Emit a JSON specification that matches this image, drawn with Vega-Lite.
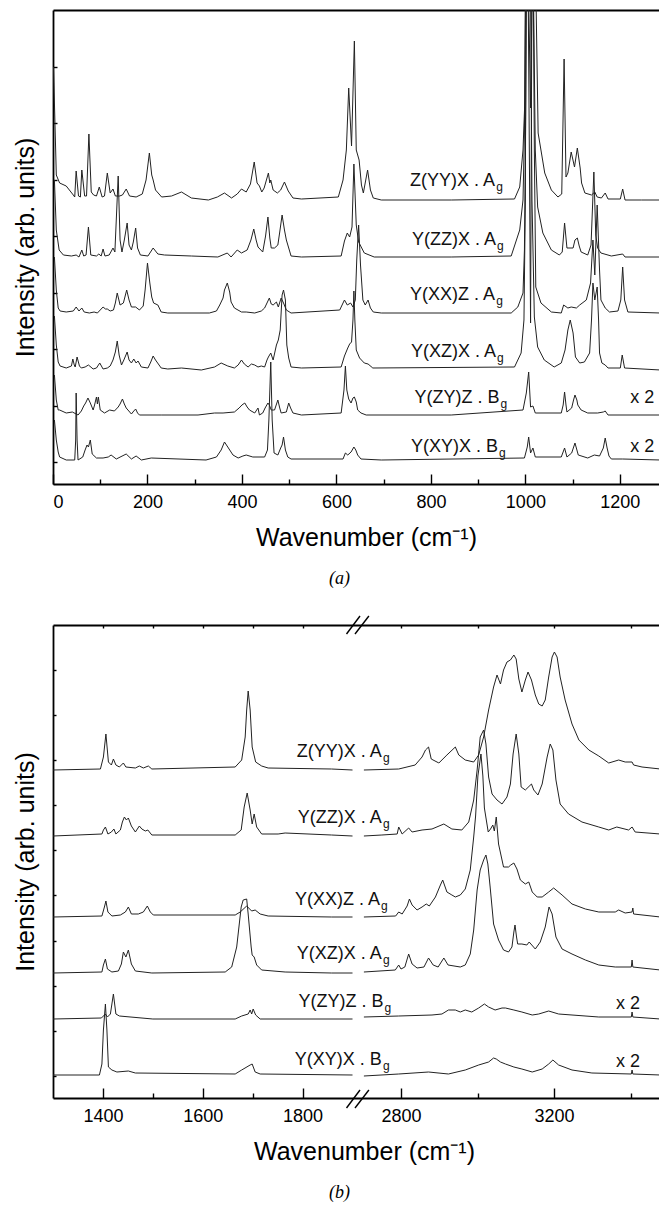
{
  "$schema": "https://vega.github.io/schema/vega-lite/v6.json",
  "background": "white",
  "padding": {"left": 13, "top": 10, "right": 0, "bottom": 0},
  "spacing": 27,
  "config": {
    "view": {"stroke": null},
    "font": "Liberation Sans",
    "axis": {
      "grid": false, "domainColor": "#000", "domainWidth": 1.8, "tickColor": "#000", "tickWidth": 1.4,
      "labelFont": "Liberation Sans", "labelFontSize": 18, "labelColor": "#000",
      "titleFont": "Liberation Sans", "titleFontSize": 25, "titleFontWeight": "normal", "titleColor": "#000"
    },
    "title": {"font": "Liberation Serif", "fontStyle": "italic", "fontWeight": "normal", "fontSize": 18, "color": "#000"},
    "text": {"font": "Liberation Sans", "color": "#111"}
  },
  "datasets": {
    "a": [
      {"s":"Z(YY)X","x":1,"y":395},{"s":"Z(YY)X","x":4,"y":342},{"s":"Z(YY)X","x":7,"y":287},{"s":"Z(YY)X","x":14,"y":279},{"s":"Z(YY)X","x":28,"y":276},{"s":"Z(YY)X","x":43,"y":267},{"s":"Z(YY)X","x":46,"y":265},{"s":"Z(YY)X","x":49,"y":291},{"s":"Z(YY)X","x":54,"y":266},{"s":"Z(YY)X","x":58,"y":265},{"s":"Z(YY)X","x":61,"y":292},{"s":"Z(YY)X","x":67,"y":266},{"s":"Z(YY)X","x":71,"y":266},{"s":"Z(YY)X","x":76,"y":328},{"s":"Z(YY)X","x":81,"y":270},{"s":"Z(YY)X","x":86,"y":267},{"s":"Z(YY)X","x":92,"y":266},{"s":"Z(YY)X","x":98,"y":275},{"s":"Z(YY)X","x":104,"y":265},{"s":"Z(YY)X","x":109,"y":266},{"s":"Z(YY)X","x":115,"y":289},{"s":"Z(YY)X","x":121,"y":269},{"s":"Z(YY)X","x":127,"y":273},{"s":"Z(YY)X","x":132,"y":266},{"s":"Z(YY)X","x":141,"y":266},{"s":"Z(YY)X","x":147,"y":267},{"s":"Z(YY)X","x":155,"y":273},{"s":"Z(YY)X","x":162,"y":266},{"s":"Z(YY)X","x":176,"y":265},{"s":"Z(YY)X","x":189,"y":268},{"s":"Z(YY)X","x":197,"y":282},{"s":"Z(YY)X","x":204,"y":309},{"s":"Z(YY)X","x":209,"y":287},{"s":"Z(YY)X","x":212,"y":282},{"s":"Z(YY)X","x":217,"y":272},{"s":"Z(YY)X","x":230,"y":265},{"s":"Z(YY)X","x":251,"y":266},{"s":"Z(YY)X","x":272,"y":270},{"s":"Z(YY)X","x":293,"y":264},{"s":"Z(YY)X","x":329,"y":262},{"s":"Z(YY)X","x":348,"y":265},{"s":"Z(YY)X","x":363,"y":269},{"s":"Z(YY)X","x":378,"y":264},{"s":"Z(YY)X","x":390,"y":268},{"s":"Z(YY)X","x":399,"y":273},{"s":"Z(YY)X","x":409,"y":270},{"s":"Z(YY)X","x":418,"y":278},{"s":"Z(YY)X","x":426,"y":300},{"s":"Z(YY)X","x":432,"y":279},{"s":"Z(YY)X","x":437,"y":276},{"s":"Z(YY)X","x":442,"y":270},{"s":"Z(YY)X","x":447,"y":274},{"s":"Z(YY)X","x":456,"y":289},{"s":"Z(YY)X","x":459,"y":279},{"s":"Z(YY)X","x":461,"y":282},{"s":"Z(YY)X","x":466,"y":272},{"s":"Z(YY)X","x":475,"y":269},{"s":"Z(YY)X","x":482,"y":272},{"s":"Z(YY)X","x":490,"y":280},{"s":"Z(YY)X","x":498,"y":271},{"s":"Z(YY)X","x":508,"y":264},{"s":"Z(YY)X","x":526,"y":263},{"s":"Z(YY)X","x":604,"y":265},{"s":"Z(YY)X","x":614,"y":282},{"s":"Z(YY)X","x":621,"y":312},{"s":"Z(YY)X","x":626,"y":374},{"s":"Z(YY)X","x":632,"y":316},{"s":"Z(YY)X","x":638,"y":421},{"s":"Z(YY)X","x":642,"y":312},{"s":"Z(YY)X","x":648,"y":302},{"s":"Z(YY)X","x":653,"y":277},{"s":"Z(YY)X","x":657,"y":269},{"s":"Z(YY)X","x":666,"y":292},{"s":"Z(YY)X","x":672,"y":272},{"s":"Z(YY)X","x":678,"y":264},{"s":"Z(YY)X","x":695,"y":262},{"s":"Z(YY)X","x":844,"y":262},{"s":"Z(YY)X","x":977,"y":263},{"s":"Z(YY)X","x":988,"y":275},{"s":"Z(YY)X","x":995,"y":312},{"s":"Z(YY)X","x":999,"y":362},{"s":"Z(YY)X","x":1002,"y":600},{"s":"Z(YY)X","x":1011,"y":354},{"s":"Z(YY)X","x":1018,"y":600},{"s":"Z(YY)X","x":1027,"y":329},{"s":"Z(YY)X","x":1041,"y":289},{"s":"Z(YY)X","x":1055,"y":272},{"s":"Z(YY)X","x":1069,"y":265},{"s":"Z(YY)X","x":1077,"y":268},{"s":"Z(YY)X","x":1082,"y":403},{"s":"Z(YY)X","x":1086,"y":285},{"s":"Z(YY)X","x":1090,"y":289},{"s":"Z(YY)X","x":1097,"y":310},{"s":"Z(YY)X","x":1104,"y":295},{"s":"Z(YY)X","x":1110,"y":314},{"s":"Z(YY)X","x":1116,"y":294},{"s":"Z(YY)X","x":1119,"y":279},{"s":"Z(YY)X","x":1126,"y":269},{"s":"Z(YY)X","x":1140,"y":267},{"s":"Z(YY)X","x":1147,"y":270},{"s":"Z(YY)X","x":1152,"y":265},{"s":"Z(YY)X","x":1161,"y":264},{"s":"Z(YY)X","x":1169,"y":269},{"s":"Z(YY)X","x":1175,"y":263},{"s":"Z(YY)X","x":1201,"y":263},{"s":"Z(YY)X","x":1206,"y":273},{"s":"Z(YY)X","x":1211,"y":262},{"s":"Z(YY)X","x":1246,"y":262},{"s":"Z(YY)X","x":1286,"y":262},

      {"s":"Y(ZZ)X","x":3,"y":282},{"s":"Y(ZZ)X","x":7,"y":232},{"s":"Y(ZZ)X","x":13,"y":212},{"s":"Y(ZZ)X","x":22,"y":207},{"s":"Y(ZZ)X","x":39,"y":206},{"s":"Y(ZZ)X","x":49,"y":207},{"s":"Y(ZZ)X","x":55,"y":205},{"s":"Y(ZZ)X","x":61,"y":212},{"s":"Y(ZZ)X","x":65,"y":206},{"s":"Y(ZZ)X","x":70,"y":207},{"s":"Y(ZZ)X","x":75,"y":235},{"s":"Y(ZZ)X","x":80,"y":207},{"s":"Y(ZZ)X","x":92,"y":206},{"s":"Y(ZZ)X","x":97,"y":208},{"s":"Y(ZZ)X","x":102,"y":206},{"s":"Y(ZZ)X","x":106,"y":213},{"s":"Y(ZZ)X","x":110,"y":206},{"s":"Y(ZZ)X","x":119,"y":207},{"s":"Y(ZZ)X","x":127,"y":214},{"s":"Y(ZZ)X","x":131,"y":210},{"s":"Y(ZZ)X","x":138,"y":286},{"s":"Y(ZZ)X","x":142,"y":222},{"s":"Y(ZZ)X","x":146,"y":210},{"s":"Y(ZZ)X","x":151,"y":222},{"s":"Y(ZZ)X","x":157,"y":239},{"s":"Y(ZZ)X","x":161,"y":217},{"s":"Y(ZZ)X","x":166,"y":212},{"s":"Y(ZZ)X","x":170,"y":220},{"s":"Y(ZZ)X","x":175,"y":234},{"s":"Y(ZZ)X","x":179,"y":214},{"s":"Y(ZZ)X","x":185,"y":207},{"s":"Y(ZZ)X","x":201,"y":206},{"s":"Y(ZZ)X","x":212,"y":214},{"s":"Y(ZZ)X","x":222,"y":208},{"s":"Y(ZZ)X","x":236,"y":207},{"s":"Y(ZZ)X","x":293,"y":206},{"s":"Y(ZZ)X","x":349,"y":205},{"s":"Y(ZZ)X","x":369,"y":209},{"s":"Y(ZZ)X","x":377,"y":205},{"s":"Y(ZZ)X","x":390,"y":212},{"s":"Y(ZZ)X","x":399,"y":209},{"s":"Y(ZZ)X","x":411,"y":212},{"s":"Y(ZZ)X","x":419,"y":222},{"s":"Y(ZZ)X","x":425,"y":233},{"s":"Y(ZZ)X","x":430,"y":222},{"s":"Y(ZZ)X","x":434,"y":215},{"s":"Y(ZZ)X","x":444,"y":210},{"s":"Y(ZZ)X","x":450,"y":226},{"s":"Y(ZZ)X","x":455,"y":245},{"s":"Y(ZZ)X","x":459,"y":224},{"s":"Y(ZZ)X","x":462,"y":214},{"s":"Y(ZZ)X","x":469,"y":214},{"s":"Y(ZZ)X","x":476,"y":217},{"s":"Y(ZZ)X","x":480,"y":230},{"s":"Y(ZZ)X","x":485,"y":247},{"s":"Y(ZZ)X","x":490,"y":232},{"s":"Y(ZZ)X","x":494,"y":222},{"s":"Y(ZZ)X","x":504,"y":206},{"s":"Y(ZZ)X","x":526,"y":205},{"s":"Y(ZZ)X","x":610,"y":206},{"s":"Y(ZZ)X","x":617,"y":221},{"s":"Y(ZZ)X","x":623,"y":229},{"s":"Y(ZZ)X","x":628,"y":225},{"s":"Y(ZZ)X","x":633,"y":235},{"s":"Y(ZZ)X","x":637,"y":298},{"s":"Y(ZZ)X","x":642,"y":237},{"s":"Y(ZZ)X","x":647,"y":220},{"s":"Y(ZZ)X","x":659,"y":209},{"s":"Y(ZZ)X","x":680,"y":205},{"s":"Y(ZZ)X","x":843,"y":205},{"s":"Y(ZZ)X","x":970,"y":206},{"s":"Y(ZZ)X","x":988,"y":232},{"s":"Y(ZZ)X","x":995,"y":262},{"s":"Y(ZZ)X","x":998,"y":329},{"s":"Y(ZZ)X","x":1002,"y":600},{"s":"Y(ZZ)X","x":1014,"y":600},{"s":"Y(ZZ)X","x":1021,"y":312},{"s":"Y(ZZ)X","x":1026,"y":255},{"s":"Y(ZZ)X","x":1037,"y":229},{"s":"Y(ZZ)X","x":1055,"y":212},{"s":"Y(ZZ)X","x":1072,"y":207},{"s":"Y(ZZ)X","x":1078,"y":210},{"s":"Y(ZZ)X","x":1083,"y":239},{"s":"Y(ZZ)X","x":1088,"y":214},{"s":"Y(ZZ)X","x":1101,"y":214},{"s":"Y(ZZ)X","x":1105,"y":222},{"s":"Y(ZZ)X","x":1110,"y":224},{"s":"Y(ZZ)X","x":1114,"y":216},{"s":"Y(ZZ)X","x":1118,"y":210},{"s":"Y(ZZ)X","x":1132,"y":207},{"s":"Y(ZZ)X","x":1139,"y":217},{"s":"Y(ZZ)X","x":1145,"y":290},{"s":"Y(ZZ)X","x":1149,"y":227},{"s":"Y(ZZ)X","x":1153,"y":214},{"s":"Y(ZZ)X","x":1160,"y":209},{"s":"Y(ZZ)X","x":1182,"y":206},{"s":"Y(ZZ)X","x":1206,"y":208},{"s":"Y(ZZ)X","x":1211,"y":205},{"s":"Y(ZZ)X","x":1286,"y":205},

      {"s":"Y(XX)Z","x":3,"y":205},{"s":"Y(XX)Z","x":7,"y":172},{"s":"Y(XX)Z","x":11,"y":154},{"s":"Y(XX)Z","x":15,"y":151},{"s":"Y(XX)Z","x":28,"y":150},{"s":"Y(XX)Z","x":43,"y":151},{"s":"Y(XX)Z","x":49,"y":155},{"s":"Y(XX)Z","x":55,"y":151},{"s":"Y(XX)Z","x":61,"y":154},{"s":"Y(XX)Z","x":66,"y":150},{"s":"Y(XX)Z","x":77,"y":149},{"s":"Y(XX)Z","x":87,"y":150},{"s":"Y(XX)Z","x":94,"y":149},{"s":"Y(XX)Z","x":106,"y":155},{"s":"Y(XX)Z","x":111,"y":153},{"s":"Y(XX)Z","x":115,"y":153},{"s":"Y(XX)Z","x":121,"y":151},{"s":"Y(XX)Z","x":128,"y":152},{"s":"Y(XX)Z","x":132,"y":159},{"s":"Y(XX)Z","x":136,"y":169},{"s":"Y(XX)Z","x":142,"y":157},{"s":"Y(XX)Z","x":149,"y":159},{"s":"Y(XX)Z","x":156,"y":172},{"s":"Y(XX)Z","x":161,"y":162},{"s":"Y(XX)Z","x":166,"y":155},{"s":"Y(XX)Z","x":175,"y":155},{"s":"Y(XX)Z","x":183,"y":152},{"s":"Y(XX)Z","x":191,"y":156},{"s":"Y(XX)Z","x":195,"y":172},{"s":"Y(XX)Z","x":200,"y":199},{"s":"Y(XX)Z","x":205,"y":179},{"s":"Y(XX)Z","x":209,"y":165},{"s":"Y(XX)Z","x":213,"y":159},{"s":"Y(XX)Z","x":222,"y":157},{"s":"Y(XX)Z","x":229,"y":150},{"s":"Y(XX)Z","x":243,"y":149},{"s":"Y(XX)Z","x":331,"y":149},{"s":"Y(XX)Z","x":346,"y":151},{"s":"Y(XX)Z","x":353,"y":157},{"s":"Y(XX)Z","x":360,"y":164},{"s":"Y(XX)Z","x":363,"y":172},{"s":"Y(XX)Z","x":369,"y":179},{"s":"Y(XX)Z","x":374,"y":170},{"s":"Y(XX)Z","x":377,"y":160},{"s":"Y(XX)Z","x":384,"y":154},{"s":"Y(XX)Z","x":399,"y":150},{"s":"Y(XX)Z","x":409,"y":150},{"s":"Y(XX)Z","x":427,"y":149},{"s":"Y(XX)Z","x":441,"y":151},{"s":"Y(XX)Z","x":448,"y":154},{"s":"Y(XX)Z","x":454,"y":160},{"s":"Y(XX)Z","x":458,"y":164},{"s":"Y(XX)Z","x":462,"y":158},{"s":"Y(XX)Z","x":466,"y":157},{"s":"Y(XX)Z","x":473,"y":160},{"s":"Y(XX)Z","x":477,"y":155},{"s":"Y(XX)Z","x":483,"y":164},{"s":"Y(XX)Z","x":488,"y":159},{"s":"Y(XX)Z","x":494,"y":152},{"s":"Y(XX)Z","x":504,"y":149},{"s":"Y(XX)Z","x":607,"y":152},{"s":"Y(XX)Z","x":617,"y":162},{"s":"Y(XX)Z","x":623,"y":157},{"s":"Y(XX)Z","x":630,"y":159},{"s":"Y(XX)Z","x":635,"y":155},{"s":"Y(XX)Z","x":640,"y":162},{"s":"Y(XX)Z","x":643,"y":202},{"s":"Y(XX)Z","x":647,"y":237},{"s":"Y(XX)Z","x":651,"y":197},{"s":"Y(XX)Z","x":656,"y":162},{"s":"Y(XX)Z","x":661,"y":157},{"s":"Y(XX)Z","x":667,"y":162},{"s":"Y(XX)Z","x":672,"y":154},{"s":"Y(XX)Z","x":678,"y":150},{"s":"Y(XX)Z","x":695,"y":149},{"s":"Y(XX)Z","x":970,"y":149},{"s":"Y(XX)Z","x":984,"y":155},{"s":"Y(XX)Z","x":995,"y":169},{"s":"Y(XX)Z","x":998,"y":212},{"s":"Y(XX)Z","x":1001,"y":362},{"s":"Y(XX)Z","x":1004,"y":600},{"s":"Y(XX)Z","x":1011,"y":139},{"s":"Y(XX)Z","x":1015,"y":600},{"s":"Y(XX)Z","x":1019,"y":312},{"s":"Y(XX)Z","x":1022,"y":175},{"s":"Y(XX)Z","x":1033,"y":159},{"s":"Y(XX)Z","x":1055,"y":150},{"s":"Y(XX)Z","x":1076,"y":149},{"s":"Y(XX)Z","x":1081,"y":157},{"s":"Y(XX)Z","x":1090,"y":154},{"s":"Y(XX)Z","x":1097,"y":155},{"s":"Y(XX)Z","x":1108,"y":154},{"s":"Y(XX)Z","x":1115,"y":157},{"s":"Y(XX)Z","x":1129,"y":162},{"s":"Y(XX)Z","x":1138,"y":179},{"s":"Y(XX)Z","x":1143,"y":222},{"s":"Y(XX)Z","x":1147,"y":187},{"s":"Y(XX)Z","x":1152,"y":257},{"s":"Y(XX)Z","x":1157,"y":192},{"s":"Y(XX)Z","x":1160,"y":162},{"s":"Y(XX)Z","x":1169,"y":154},{"s":"Y(XX)Z","x":1178,"y":150},{"s":"Y(XX)Z","x":1196,"y":151},{"s":"Y(XX)Z","x":1202,"y":162},{"s":"Y(XX)Z","x":1206,"y":195},{"s":"Y(XX)Z","x":1210,"y":162},{"s":"Y(XX)Z","x":1217,"y":150},{"s":"Y(XX)Z","x":1286,"y":149},

      {"s":"Y(XZ)X","x":3,"y":146},{"s":"Y(XZ)X","x":7,"y":117},{"s":"Y(XZ)X","x":11,"y":100},{"s":"Y(XZ)X","x":15,"y":96},{"s":"Y(XZ)X","x":28,"y":94},{"s":"Y(XZ)X","x":39,"y":96},{"s":"Y(XZ)X","x":42,"y":103},{"s":"Y(XZ)X","x":45,"y":97},{"s":"Y(XZ)X","x":47,"y":95},{"s":"Y(XZ)X","x":51,"y":105},{"s":"Y(XZ)X","x":56,"y":96},{"s":"Y(XZ)X","x":60,"y":94},{"s":"Y(XZ)X","x":68,"y":95},{"s":"Y(XZ)X","x":75,"y":97},{"s":"Y(XZ)X","x":85,"y":93},{"s":"Y(XZ)X","x":92,"y":94},{"s":"Y(XZ)X","x":99,"y":99},{"s":"Y(XZ)X","x":106,"y":93},{"s":"Y(XZ)X","x":115,"y":94},{"s":"Y(XZ)X","x":121,"y":96},{"s":"Y(XZ)X","x":127,"y":102},{"s":"Y(XZ)X","x":132,"y":110},{"s":"Y(XZ)X","x":136,"y":121},{"s":"Y(XZ)X","x":140,"y":107},{"s":"Y(XZ)X","x":145,"y":97},{"s":"Y(XZ)X","x":150,"y":102},{"s":"Y(XZ)X","x":157,"y":110},{"s":"Y(XZ)X","x":161,"y":102},{"s":"Y(XZ)X","x":166,"y":99},{"s":"Y(XZ)X","x":171,"y":103},{"s":"Y(XZ)X","x":176,"y":99},{"s":"Y(XZ)X","x":180,"y":101},{"s":"Y(XZ)X","x":187,"y":95},{"s":"Y(XZ)X","x":201,"y":94},{"s":"Y(XZ)X","x":207,"y":100},{"s":"Y(XZ)X","x":212,"y":106},{"s":"Y(XZ)X","x":217,"y":102},{"s":"Y(XZ)X","x":220,"y":100},{"s":"Y(XZ)X","x":229,"y":94},{"s":"Y(XZ)X","x":243,"y":93},{"s":"Y(XZ)X","x":272,"y":94},{"s":"Y(XZ)X","x":314,"y":92},{"s":"Y(XZ)X","x":342,"y":95},{"s":"Y(XZ)X","x":356,"y":99},{"s":"Y(XZ)X","x":370,"y":96},{"s":"Y(XZ)X","x":384,"y":94},{"s":"Y(XZ)X","x":392,"y":97},{"s":"Y(XZ)X","x":399,"y":102},{"s":"Y(XZ)X","x":405,"y":98},{"s":"Y(XZ)X","x":413,"y":95},{"s":"Y(XZ)X","x":420,"y":98},{"s":"Y(XZ)X","x":427,"y":97},{"s":"Y(XZ)X","x":434,"y":95},{"s":"Y(XZ)X","x":441,"y":96},{"s":"Y(XZ)X","x":448,"y":95},{"s":"Y(XZ)X","x":453,"y":102},{"s":"Y(XZ)X","x":456,"y":105},{"s":"Y(XZ)X","x":461,"y":109},{"s":"Y(XZ)X","x":466,"y":102},{"s":"Y(XZ)X","x":473,"y":117},{"s":"Y(XZ)X","x":477,"y":122},{"s":"Y(XZ)X","x":481,"y":132},{"s":"Y(XZ)X","x":485,"y":167},{"s":"Y(XZ)X","x":488,"y":172},{"s":"Y(XZ)X","x":492,"y":162},{"s":"Y(XZ)X","x":495,"y":117},{"s":"Y(XZ)X","x":499,"y":104},{"s":"Y(XZ)X","x":504,"y":95},{"s":"Y(XZ)X","x":526,"y":94},{"s":"Y(XZ)X","x":610,"y":95},{"s":"Y(XZ)X","x":617,"y":106},{"s":"Y(XZ)X","x":624,"y":114},{"s":"Y(XZ)X","x":628,"y":118},{"s":"Y(XZ)X","x":632,"y":120},{"s":"Y(XZ)X","x":635,"y":142},{"s":"Y(XZ)X","x":637,"y":171},{"s":"Y(XZ)X","x":639,"y":142},{"s":"Y(XZ)X","x":642,"y":112},{"s":"Y(XZ)X","x":649,"y":104},{"s":"Y(XZ)X","x":659,"y":99},{"s":"Y(XZ)X","x":667,"y":98},{"s":"Y(XZ)X","x":677,"y":94},{"s":"Y(XZ)X","x":977,"y":95},{"s":"Y(XZ)X","x":991,"y":109},{"s":"Y(XZ)X","x":997,"y":142},{"s":"Y(XZ)X","x":1000,"y":262},{"s":"Y(XZ)X","x":1002,"y":600},{"s":"Y(XZ)X","x":1009,"y":600},{"s":"Y(XZ)X","x":1014,"y":262},{"s":"Y(XZ)X","x":1019,"y":145},{"s":"Y(XZ)X","x":1026,"y":115},{"s":"Y(XZ)X","x":1040,"y":102},{"s":"Y(XZ)X","x":1061,"y":95},{"s":"Y(XZ)X","x":1076,"y":99},{"s":"Y(XZ)X","x":1084,"y":112},{"s":"Y(XZ)X","x":1090,"y":132},{"s":"Y(XZ)X","x":1095,"y":142},{"s":"Y(XZ)X","x":1101,"y":129},{"s":"Y(XZ)X","x":1106,"y":105},{"s":"Y(XZ)X","x":1115,"y":99},{"s":"Y(XZ)X","x":1125,"y":100},{"s":"Y(XZ)X","x":1136,"y":109},{"s":"Y(XZ)X","x":1140,"y":142},{"s":"Y(XZ)X","x":1143,"y":179},{"s":"Y(XZ)X","x":1147,"y":162},{"s":"Y(XZ)X","x":1152,"y":175},{"s":"Y(XZ)X","x":1155,"y":142},{"s":"Y(XZ)X","x":1157,"y":109},{"s":"Y(XZ)X","x":1162,"y":99},{"s":"Y(XZ)X","x":1169,"y":97},{"s":"Y(XZ)X","x":1175,"y":94},{"s":"Y(XZ)X","x":1201,"y":94},{"s":"Y(XZ)X","x":1205,"y":107},{"s":"Y(XZ)X","x":1210,"y":94},{"s":"Y(XZ)X","x":1286,"y":92},

      {"s":"Y(ZY)Z","x":3,"y":87},{"s":"Y(ZY)Z","x":7,"y":62},{"s":"Y(ZY)Z","x":11,"y":52},{"s":"Y(ZY)Z","x":14,"y":52},{"s":"Y(ZY)Z","x":28,"y":49},{"s":"Y(ZY)Z","x":41,"y":50},{"s":"Y(ZY)Z","x":53,"y":47},{"s":"Y(ZY)Z","x":60,"y":51},{"s":"Y(ZY)Z","x":65,"y":56},{"s":"Y(ZY)Z","x":69,"y":59},{"s":"Y(ZY)Z","x":74,"y":64},{"s":"Y(ZY)Z","x":79,"y":59},{"s":"Y(ZY)Z","x":85,"y":52},{"s":"Y(ZY)Z","x":88,"y":57},{"s":"Y(ZY)Z","x":92,"y":65},{"s":"Y(ZY)Z","x":94,"y":58},{"s":"Y(ZY)Z","x":96,"y":65},{"s":"Y(ZY)Z","x":100,"y":52},{"s":"Y(ZY)Z","x":109,"y":49},{"s":"Y(ZY)Z","x":120,"y":52},{"s":"Y(ZY)Z","x":130,"y":51},{"s":"Y(ZY)Z","x":138,"y":55},{"s":"Y(ZY)Z","x":142,"y":58},{"s":"Y(ZY)Z","x":147,"y":63},{"s":"Y(ZY)Z","x":151,"y":58},{"s":"Y(ZY)Z","x":155,"y":54},{"s":"Y(ZY)Z","x":166,"y":48},{"s":"Y(ZY)Z","x":171,"y":51},{"s":"Y(ZY)Z","x":175,"y":53},{"s":"Y(ZY)Z","x":179,"y":49},{"s":"Y(ZY)Z","x":183,"y":47},{"s":"Y(ZY)Z","x":229,"y":47},{"s":"Y(ZY)Z","x":307,"y":47},{"s":"Y(ZY)Z","x":342,"y":49},{"s":"Y(ZY)Z","x":360,"y":49},{"s":"Y(ZY)Z","x":384,"y":50},{"s":"Y(ZY)Z","x":394,"y":54},{"s":"Y(ZY)Z","x":400,"y":57},{"s":"Y(ZY)Z","x":406,"y":59},{"s":"Y(ZY)Z","x":411,"y":55},{"s":"Y(ZY)Z","x":416,"y":52},{"s":"Y(ZY)Z","x":427,"y":49},{"s":"Y(ZY)Z","x":434,"y":54},{"s":"Y(ZY)Z","x":437,"y":47},{"s":"Y(ZY)Z","x":444,"y":49},{"s":"Y(ZY)Z","x":449,"y":54},{"s":"Y(ZY)Z","x":455,"y":59},{"s":"Y(ZY)Z","x":458,"y":57},{"s":"Y(ZY)Z","x":462,"y":52},{"s":"Y(ZY)Z","x":469,"y":52},{"s":"Y(ZY)Z","x":476,"y":62},{"s":"Y(ZY)Z","x":480,"y":54},{"s":"Y(ZY)Z","x":483,"y":49},{"s":"Y(ZY)Z","x":494,"y":50},{"s":"Y(ZY)Z","x":499,"y":59},{"s":"Y(ZY)Z","x":503,"y":54},{"s":"Y(ZY)Z","x":508,"y":49},{"s":"Y(ZY)Z","x":526,"y":47},{"s":"Y(ZY)Z","x":610,"y":49},{"s":"Y(ZY)Z","x":616,"y":72},{"s":"Y(ZY)Z","x":619,"y":96},{"s":"Y(ZY)Z","x":622,"y":72},{"s":"Y(ZY)Z","x":626,"y":63},{"s":"Y(ZY)Z","x":631,"y":59},{"s":"Y(ZY)Z","x":635,"y":64},{"s":"Y(ZY)Z","x":638,"y":65},{"s":"Y(ZY)Z","x":642,"y":60},{"s":"Y(ZY)Z","x":645,"y":52},{"s":"Y(ZY)Z","x":652,"y":49},{"s":"Y(ZY)Z","x":663,"y":47},{"s":"Y(ZY)Z","x":843,"y":47},{"s":"Y(ZY)Z","x":995,"y":52},{"s":"Y(ZY)Z","x":1002,"y":69},{"s":"Y(ZY)Z","x":1007,"y":90},{"s":"Y(ZY)Z","x":1011,"y":55},{"s":"Y(ZY)Z","x":1016,"y":56},{"s":"Y(ZY)Z","x":1021,"y":49},{"s":"Y(ZY)Z","x":1076,"y":49},{"s":"Y(ZY)Z","x":1080,"y":57},{"s":"Y(ZY)Z","x":1083,"y":70},{"s":"Y(ZY)Z","x":1086,"y":57},{"s":"Y(ZY)Z","x":1088,"y":50},{"s":"Y(ZY)Z","x":1098,"y":54},{"s":"Y(ZY)Z","x":1102,"y":62},{"s":"Y(ZY)Z","x":1105,"y":67},{"s":"Y(ZY)Z","x":1109,"y":62},{"s":"Y(ZY)Z","x":1111,"y":57},{"s":"Y(ZY)Z","x":1118,"y":52},{"s":"Y(ZY)Z","x":1132,"y":49},{"s":"Y(ZY)Z","x":1153,"y":49},{"s":"Y(ZY)Z","x":1165,"y":50},{"s":"Y(ZY)Z","x":1169,"y":51},{"s":"Y(ZY)Z","x":1175,"y":47},{"s":"Y(ZY)Z","x":1286,"y":47},

      {"s":"Y(XY)X","x":3,"y":42},{"s":"Y(XY)X","x":7,"y":22},{"s":"Y(XY)X","x":11,"y":10},{"s":"Y(XY)X","x":14,"y":5},{"s":"Y(XY)X","x":28,"y":2},{"s":"Y(XY)X","x":46,"y":2},{"s":"Y(XY)X","x":48,"y":22},{"s":"Y(XY)X","x":49,"y":69},{"s":"Y(XY)X","x":51,"y":22},{"s":"Y(XY)X","x":53,"y":2},{"s":"Y(XY)X","x":63,"y":5},{"s":"Y(XY)X","x":68,"y":12},{"s":"Y(XY)X","x":72,"y":17},{"s":"Y(XY)X","x":75,"y":15},{"s":"Y(XY)X","x":79,"y":22},{"s":"Y(XY)X","x":83,"y":8},{"s":"Y(XY)X","x":92,"y":4},{"s":"Y(XY)X","x":106,"y":4},{"s":"Y(XY)X","x":117,"y":5},{"s":"Y(XY)X","x":123,"y":7},{"s":"Y(XY)X","x":134,"y":3},{"s":"Y(XY)X","x":155,"y":8},{"s":"Y(XY)X","x":166,"y":3},{"s":"Y(XY)X","x":176,"y":6},{"s":"Y(XY)X","x":187,"y":2},{"s":"Y(XY)X","x":208,"y":4},{"s":"Y(XY)X","x":324,"y":2},{"s":"Y(XY)X","x":346,"y":5},{"s":"Y(XY)X","x":356,"y":12},{"s":"Y(XY)X","x":363,"y":20},{"s":"Y(XY)X","x":370,"y":15},{"s":"Y(XY)X","x":381,"y":7},{"s":"Y(XY)X","x":392,"y":4},{"s":"Y(XY)X","x":402,"y":6},{"s":"Y(XY)X","x":409,"y":7},{"s":"Y(XY)X","x":423,"y":5},{"s":"Y(XY)X","x":434,"y":5},{"s":"Y(XY)X","x":448,"y":5},{"s":"Y(XY)X","x":454,"y":12},{"s":"Y(XY)X","x":457,"y":42},{"s":"Y(XY)X","x":461,"y":100},{"s":"Y(XY)X","x":464,"y":42},{"s":"Y(XY)X","x":468,"y":9},{"s":"Y(XY)X","x":476,"y":7},{"s":"Y(XY)X","x":482,"y":14},{"s":"Y(XY)X","x":485,"y":17},{"s":"Y(XY)X","x":488,"y":25},{"s":"Y(XY)X","x":492,"y":12},{"s":"Y(XY)X","x":497,"y":5},{"s":"Y(XY)X","x":504,"y":3},{"s":"Y(XY)X","x":614,"y":3},{"s":"Y(XY)X","x":619,"y":9},{"s":"Y(XY)X","x":624,"y":7},{"s":"Y(XY)X","x":631,"y":10},{"s":"Y(XY)X","x":637,"y":15},{"s":"Y(XY)X","x":641,"y":12},{"s":"Y(XY)X","x":645,"y":7},{"s":"Y(XY)X","x":652,"y":3},{"s":"Y(XY)X","x":695,"y":2},{"s":"Y(XY)X","x":998,"y":4},{"s":"Y(XY)X","x":1004,"y":15},{"s":"Y(XY)X","x":1007,"y":25},{"s":"Y(XY)X","x":1011,"y":9},{"s":"Y(XY)X","x":1016,"y":14},{"s":"Y(XY)X","x":1021,"y":5},{"s":"Y(XY)X","x":1076,"y":5},{"s":"Y(XY)X","x":1083,"y":14},{"s":"Y(XY)X","x":1088,"y":5},{"s":"Y(XY)X","x":1098,"y":9},{"s":"Y(XY)X","x":1105,"y":19},{"s":"Y(XY)X","x":1112,"y":7},{"s":"Y(XY)X","x":1132,"y":4},{"s":"Y(XY)X","x":1146,"y":7},{"s":"Y(XY)X","x":1157,"y":6},{"s":"Y(XY)X","x":1165,"y":14},{"s":"Y(XY)X","x":1169,"y":24},{"s":"Y(XY)X","x":1173,"y":14},{"s":"Y(XY)X","x":1177,"y":6},{"s":"Y(XY)X","x":1182,"y":3},{"s":"Y(XY)X","x":1206,"y":3},{"s":"Y(XY)X","x":1286,"y":2}
    ],
    "b": [
      {"s":"Z(YY)X","p":"L","x":1300,"y":306},{"s":"Z(YY)X","p":"L","x":1395,"y":307},{"s":"Z(YY)X","p":"L","x":1401,"y":319},{"s":"Z(YY)X","p":"L","x":1406,"y":342},{"s":"Z(YY)X","p":"L","x":1411,"y":314},{"s":"Z(YY)X","p":"L","x":1417,"y":311},{"s":"Z(YY)X","p":"L","x":1421,"y":317},{"s":"Z(YY)X","p":"L","x":1426,"y":311},{"s":"Z(YY)X","p":"L","x":1433,"y":309},{"s":"Z(YY)X","p":"L","x":1441,"y":313},{"s":"Z(YY)X","p":"L","x":1446,"y":309},{"s":"Z(YY)X","p":"L","x":1465,"y":308},{"s":"Z(YY)X","p":"L","x":1473,"y":310},{"s":"Z(YY)X","p":"L","x":1481,"y":308},{"s":"Z(YY)X","p":"L","x":1491,"y":310},{"s":"Z(YY)X","p":"L","x":1498,"y":307},{"s":"Z(YY)X","p":"L","x":1665,"y":309},{"s":"Z(YY)X","p":"L","x":1678,"y":316},{"s":"Z(YY)X","p":"L","x":1685,"y":339},{"s":"Z(YY)X","p":"L","x":1688,"y":366},{"s":"Z(YY)X","p":"L","x":1691,"y":385},{"s":"Z(YY)X","p":"L","x":1695,"y":366},{"s":"Z(YY)X","p":"L","x":1699,"y":329},{"s":"Z(YY)X","p":"L","x":1706,"y":314},{"s":"Z(YY)X","p":"L","x":1718,"y":310},{"s":"Z(YY)X","p":"L","x":1731,"y":308},{"s":"Z(YY)X","p":"L","x":1858,"y":307},{"s":"Z(YY)X","p":"L","x":1900,"y":306},
      {"s":"Z(YY)X","p":"R","x":2703,"y":306},{"s":"Z(YY)X","p":"R","x":2794,"y":307},{"s":"Z(YY)X","p":"R","x":2837,"y":311},{"s":"Z(YY)X","p":"R","x":2855,"y":319},{"s":"Z(YY)X","p":"R","x":2864,"y":326},{"s":"Z(YY)X","p":"R","x":2872,"y":329},{"s":"Z(YY)X","p":"R","x":2879,"y":317},{"s":"Z(YY)X","p":"R","x":2899,"y":313},{"s":"Z(YY)X","p":"R","x":2920,"y":321},{"s":"Z(YY)X","p":"R","x":2942,"y":329},{"s":"Z(YY)X","p":"R","x":2951,"y":321},{"s":"Z(YY)X","p":"R","x":2968,"y":316},{"s":"Z(YY)X","p":"R","x":2990,"y":314},{"s":"Z(YY)X","p":"R","x":3003,"y":321},{"s":"Z(YY)X","p":"R","x":3016,"y":339},{"s":"Z(YY)X","p":"R","x":3029,"y":366},{"s":"Z(YY)X","p":"R","x":3042,"y":389},{"s":"Z(YY)X","p":"R","x":3051,"y":401},{"s":"Z(YY)X","p":"R","x":3060,"y":392},{"s":"Z(YY)X","p":"R","x":3068,"y":406},{"s":"Z(YY)X","p":"R","x":3077,"y":414},{"s":"Z(YY)X","p":"R","x":3086,"y":416},{"s":"Z(YY)X","p":"R","x":3095,"y":421},{"s":"Z(YY)X","p":"R","x":3101,"y":417},{"s":"Z(YY)X","p":"R","x":3108,"y":397},{"s":"Z(YY)X","p":"R","x":3116,"y":384},{"s":"Z(YY)X","p":"R","x":3125,"y":396},{"s":"Z(YY)X","p":"R","x":3132,"y":404},{"s":"Z(YY)X","p":"R","x":3141,"y":396},{"s":"Z(YY)X","p":"R","x":3151,"y":381},{"s":"Z(YY)X","p":"R","x":3160,"y":372},{"s":"Z(YY)X","p":"R","x":3169,"y":370},{"s":"Z(YY)X","p":"R","x":3177,"y":376},{"s":"Z(YY)X","p":"R","x":3186,"y":399},{"s":"Z(YY)X","p":"R","x":3195,"y":419},{"s":"Z(YY)X","p":"R","x":3201,"y":424},{"s":"Z(YY)X","p":"R","x":3208,"y":419},{"s":"Z(YY)X","p":"R","x":3216,"y":399},{"s":"Z(YY)X","p":"R","x":3229,"y":376},{"s":"Z(YY)X","p":"R","x":3247,"y":352},{"s":"Z(YY)X","p":"R","x":3265,"y":336},{"s":"Z(YY)X","p":"R","x":3291,"y":326},{"s":"Z(YY)X","p":"R","x":3317,"y":320},{"s":"Z(YY)X","p":"R","x":3343,"y":313},{"s":"Z(YY)X","p":"R","x":3369,"y":316},{"s":"Z(YY)X","p":"R","x":3386,"y":314},{"s":"Z(YY)X","p":"R","x":3404,"y":314},{"s":"Z(YY)X","p":"R","x":3408,"y":311},{"s":"Z(YY)X","p":"R","x":3430,"y":309},{"s":"Z(YY)X","p":"R","x":3478,"y":307},

      {"s":"Y(ZZ)X","p":"L","x":1300,"y":240},{"s":"Y(ZZ)X","p":"L","x":1398,"y":242},{"s":"Y(ZZ)X","p":"L","x":1401,"y":246},{"s":"Y(ZZ)X","p":"L","x":1405,"y":249},{"s":"Y(ZZ)X","p":"L","x":1410,"y":242},{"s":"Y(ZZ)X","p":"L","x":1417,"y":244},{"s":"Y(ZZ)X","p":"L","x":1422,"y":247},{"s":"Y(ZZ)X","p":"L","x":1426,"y":242},{"s":"Y(ZZ)X","p":"L","x":1435,"y":246},{"s":"Y(ZZ)X","p":"L","x":1439,"y":254},{"s":"Y(ZZ)X","p":"L","x":1443,"y":259},{"s":"Y(ZZ)X","p":"L","x":1447,"y":256},{"s":"Y(ZZ)X","p":"L","x":1451,"y":258},{"s":"Y(ZZ)X","p":"L","x":1457,"y":250},{"s":"Y(ZZ)X","p":"L","x":1465,"y":244},{"s":"Y(ZZ)X","p":"L","x":1473,"y":250},{"s":"Y(ZZ)X","p":"L","x":1478,"y":247},{"s":"Y(ZZ)X","p":"L","x":1485,"y":245},{"s":"Y(ZZ)X","p":"L","x":1490,"y":246},{"s":"Y(ZZ)X","p":"L","x":1498,"y":241},{"s":"Y(ZZ)X","p":"L","x":1665,"y":241},{"s":"Y(ZZ)X","p":"L","x":1677,"y":246},{"s":"Y(ZZ)X","p":"L","x":1683,"y":269},{"s":"Y(ZZ)X","p":"L","x":1689,"y":283},{"s":"Y(ZZ)X","p":"L","x":1695,"y":266},{"s":"Y(ZZ)X","p":"L","x":1699,"y":252},{"s":"Y(ZZ)X","p":"L","x":1703,"y":262},{"s":"Y(ZZ)X","p":"L","x":1708,"y":249},{"s":"Y(ZZ)X","p":"L","x":1718,"y":242},{"s":"Y(ZZ)X","p":"L","x":1751,"y":242},{"s":"Y(ZZ)X","p":"L","x":1765,"y":243},{"s":"Y(ZZ)X","p":"L","x":1858,"y":241},{"s":"Y(ZZ)X","p":"L","x":1900,"y":240},
      {"s":"Y(ZZ)X","p":"R","x":2703,"y":240},{"s":"Y(ZZ)X","p":"R","x":2750,"y":241},{"s":"Y(ZZ)X","p":"R","x":2790,"y":242},{"s":"Y(ZZ)X","p":"R","x":2794,"y":249},{"s":"Y(ZZ)X","p":"R","x":2803,"y":242},{"s":"Y(ZZ)X","p":"R","x":2820,"y":248},{"s":"Y(ZZ)X","p":"R","x":2829,"y":244},{"s":"Y(ZZ)X","p":"R","x":2855,"y":246},{"s":"Y(ZZ)X","p":"R","x":2881,"y":247},{"s":"Y(ZZ)X","p":"R","x":2912,"y":252},{"s":"Y(ZZ)X","p":"R","x":2933,"y":247},{"s":"Y(ZZ)X","p":"R","x":2959,"y":246},{"s":"Y(ZZ)X","p":"R","x":2977,"y":254},{"s":"Y(ZZ)X","p":"R","x":2990,"y":276},{"s":"Y(ZZ)X","p":"R","x":2999,"y":306},{"s":"Y(ZZ)X","p":"R","x":3007,"y":339},{"s":"Y(ZZ)X","p":"R","x":3016,"y":346},{"s":"Y(ZZ)X","p":"R","x":3022,"y":332},{"s":"Y(ZZ)X","p":"R","x":3029,"y":299},{"s":"Y(ZZ)X","p":"R","x":3038,"y":282},{"s":"Y(ZZ)X","p":"R","x":3051,"y":276},{"s":"Y(ZZ)X","p":"R","x":3064,"y":272},{"s":"Y(ZZ)X","p":"R","x":3077,"y":279},{"s":"Y(ZZ)X","p":"R","x":3086,"y":292},{"s":"Y(ZZ)X","p":"R","x":3093,"y":322},{"s":"Y(ZZ)X","p":"R","x":3101,"y":342},{"s":"Y(ZZ)X","p":"R","x":3108,"y":322},{"s":"Y(ZZ)X","p":"R","x":3114,"y":289},{"s":"Y(ZZ)X","p":"R","x":3125,"y":286},{"s":"Y(ZZ)X","p":"R","x":3141,"y":292},{"s":"Y(ZZ)X","p":"R","x":3147,"y":286},{"s":"Y(ZZ)X","p":"R","x":3158,"y":281},{"s":"Y(ZZ)X","p":"R","x":3169,"y":292},{"s":"Y(ZZ)X","p":"R","x":3182,"y":319},{"s":"Y(ZZ)X","p":"R","x":3190,"y":332},{"s":"Y(ZZ)X","p":"R","x":3197,"y":326},{"s":"Y(ZZ)X","p":"R","x":3205,"y":296},{"s":"Y(ZZ)X","p":"R","x":3216,"y":272},{"s":"Y(ZZ)X","p":"R","x":3238,"y":262},{"s":"Y(ZZ)X","p":"R","x":3273,"y":254},{"s":"Y(ZZ)X","p":"R","x":3317,"y":249},{"s":"Y(ZZ)X","p":"R","x":3343,"y":246},{"s":"Y(ZZ)X","p":"R","x":3364,"y":249},{"s":"Y(ZZ)X","p":"R","x":3395,"y":246},{"s":"Y(ZZ)X","p":"R","x":3404,"y":249},{"s":"Y(ZZ)X","p":"R","x":3412,"y":244},{"s":"Y(ZZ)X","p":"R","x":3478,"y":242},

      {"s":"Y(XX)Z","p":"L","x":1300,"y":159},{"s":"Y(XX)Z","p":"L","x":1398,"y":160},{"s":"Y(XX)Z","p":"L","x":1403,"y":169},{"s":"Y(XX)Z","p":"L","x":1406,"y":175},{"s":"Y(XX)Z","p":"L","x":1410,"y":164},{"s":"Y(XX)Z","p":"L","x":1418,"y":160},{"s":"Y(XX)Z","p":"L","x":1435,"y":161},{"s":"Y(XX)Z","p":"L","x":1445,"y":164},{"s":"Y(XX)Z","p":"L","x":1451,"y":169},{"s":"Y(XX)Z","p":"L","x":1457,"y":162},{"s":"Y(XX)Z","p":"L","x":1471,"y":162},{"s":"Y(XX)Z","p":"L","x":1481,"y":164},{"s":"Y(XX)Z","p":"L","x":1489,"y":170},{"s":"Y(XX)Z","p":"L","x":1495,"y":164},{"s":"Y(XX)Z","p":"L","x":1501,"y":161},{"s":"Y(XX)Z","p":"L","x":1665,"y":161},{"s":"Y(XX)Z","p":"L","x":1675,"y":164},{"s":"Y(XX)Z","p":"L","x":1688,"y":170},{"s":"Y(XX)Z","p":"L","x":1698,"y":165},{"s":"Y(XX)Z","p":"L","x":1705,"y":166},{"s":"Y(XX)Z","p":"L","x":1715,"y":162},{"s":"Y(XX)Z","p":"L","x":1731,"y":160},{"s":"Y(XX)Z","p":"L","x":1858,"y":159},{"s":"Y(XX)Z","p":"L","x":1900,"y":159},
      {"s":"Y(XX)Z","p":"R","x":2703,"y":159},{"s":"Y(XX)Z","p":"R","x":2786,"y":160},{"s":"Y(XX)Z","p":"R","x":2794,"y":164},{"s":"Y(XX)Z","p":"R","x":2803,"y":162},{"s":"Y(XX)Z","p":"R","x":2816,"y":170},{"s":"Y(XX)Z","p":"R","x":2822,"y":177},{"s":"Y(XX)Z","p":"R","x":2829,"y":171},{"s":"Y(XX)Z","p":"R","x":2842,"y":166},{"s":"Y(XX)Z","p":"R","x":2855,"y":169},{"s":"Y(XX)Z","p":"R","x":2866,"y":172},{"s":"Y(XX)Z","p":"R","x":2874,"y":170},{"s":"Y(XX)Z","p":"R","x":2890,"y":179},{"s":"Y(XX)Z","p":"R","x":2903,"y":191},{"s":"Y(XX)Z","p":"R","x":2909,"y":196},{"s":"Y(XX)Z","p":"R","x":2920,"y":184},{"s":"Y(XX)Z","p":"R","x":2933,"y":181},{"s":"Y(XX)Z","p":"R","x":2942,"y":179},{"s":"Y(XX)Z","p":"R","x":2955,"y":181},{"s":"Y(XX)Z","p":"R","x":2968,"y":187},{"s":"Y(XX)Z","p":"R","x":2981,"y":206},{"s":"Y(XX)Z","p":"R","x":2990,"y":239},{"s":"Y(XX)Z","p":"R","x":2995,"y":260},{"s":"Y(XX)Z","p":"R","x":3001,"y":300},{"s":"Y(XX)Z","p":"R","x":3009,"y":322},{"s":"Y(XX)Z","p":"R","x":3014,"y":300},{"s":"Y(XX)Z","p":"R","x":3018,"y":268},{"s":"Y(XX)Z","p":"R","x":3028,"y":244},{"s":"Y(XX)Z","p":"R","x":3034,"y":247},{"s":"Y(XX)Z","p":"R","x":3040,"y":251},{"s":"Y(XX)Z","p":"R","x":3044,"y":245},{"s":"Y(XX)Z","p":"R","x":3049,"y":259},{"s":"Y(XX)Z","p":"R","x":3055,"y":232},{"s":"Y(XX)Z","p":"R","x":3068,"y":209},{"s":"Y(XX)Z","p":"R","x":3081,"y":209},{"s":"Y(XX)Z","p":"R","x":3087,"y":211},{"s":"Y(XX)Z","p":"R","x":3095,"y":213},{"s":"Y(XX)Z","p":"R","x":3103,"y":207},{"s":"Y(XX)Z","p":"R","x":3112,"y":196},{"s":"Y(XX)Z","p":"R","x":3125,"y":192},{"s":"Y(XX)Z","p":"R","x":3134,"y":194},{"s":"Y(XX)Z","p":"R","x":3143,"y":184},{"s":"Y(XX)Z","p":"R","x":3156,"y":179},{"s":"Y(XX)Z","p":"R","x":3169,"y":179},{"s":"Y(XX)Z","p":"R","x":3186,"y":184},{"s":"Y(XX)Z","p":"R","x":3199,"y":188},{"s":"Y(XX)Z","p":"R","x":3221,"y":181},{"s":"Y(XX)Z","p":"R","x":3247,"y":172},{"s":"Y(XX)Z","p":"R","x":3282,"y":167},{"s":"Y(XX)Z","p":"R","x":3317,"y":164},{"s":"Y(XX)Z","p":"R","x":3360,"y":164},{"s":"Y(XX)Z","p":"R","x":3369,"y":166},{"s":"Y(XX)Z","p":"R","x":3386,"y":163},{"s":"Y(XX)Z","p":"R","x":3404,"y":164},{"s":"Y(XX)Z","p":"R","x":3406,"y":168},{"s":"Y(XX)Z","p":"R","x":3408,"y":162},{"s":"Y(XX)Z","p":"R","x":3478,"y":159},

      {"s":"Y(XZ)X","p":"L","x":1300,"y":103},{"s":"Y(XZ)X","p":"L","x":1398,"y":104},{"s":"Y(XZ)X","p":"L","x":1401,"y":111},{"s":"Y(XZ)X","p":"L","x":1405,"y":117},{"s":"Y(XZ)X","p":"L","x":1409,"y":107},{"s":"Y(XZ)X","p":"L","x":1418,"y":104},{"s":"Y(XZ)X","p":"L","x":1431,"y":105},{"s":"Y(XZ)X","p":"L","x":1437,"y":112},{"s":"Y(XZ)X","p":"L","x":1441,"y":124},{"s":"Y(XZ)X","p":"L","x":1446,"y":119},{"s":"Y(XZ)X","p":"L","x":1451,"y":126},{"s":"Y(XZ)X","p":"L","x":1457,"y":112},{"s":"Y(XZ)X","p":"L","x":1465,"y":105},{"s":"Y(XZ)X","p":"L","x":1498,"y":103},{"s":"Y(XZ)X","p":"L","x":1645,"y":104},{"s":"Y(XZ)X","p":"L","x":1658,"y":109},{"s":"Y(XZ)X","p":"L","x":1668,"y":129},{"s":"Y(XZ)X","p":"L","x":1677,"y":169},{"s":"Y(XZ)X","p":"L","x":1681,"y":176},{"s":"Y(XZ)X","p":"L","x":1688,"y":177},{"s":"Y(XZ)X","p":"L","x":1691,"y":162},{"s":"Y(XZ)X","p":"L","x":1697,"y":129},{"s":"Y(XZ)X","p":"L","x":1699,"y":121},{"s":"Y(XZ)X","p":"L","x":1703,"y":119},{"s":"Y(XZ)X","p":"L","x":1708,"y":111},{"s":"Y(XZ)X","p":"L","x":1718,"y":106},{"s":"Y(XZ)X","p":"L","x":1765,"y":104},{"s":"Y(XZ)X","p":"L","x":1858,"y":103},{"s":"Y(XZ)X","p":"L","x":1900,"y":103},
      {"s":"Y(XZ)X","p":"R","x":2703,"y":104},{"s":"Y(XZ)X","p":"R","x":2785,"y":106},{"s":"Y(XZ)X","p":"R","x":2794,"y":111},{"s":"Y(XZ)X","p":"R","x":2800,"y":107},{"s":"Y(XZ)X","p":"R","x":2810,"y":109},{"s":"Y(XZ)X","p":"R","x":2820,"y":122},{"s":"Y(XZ)X","p":"R","x":2829,"y":112},{"s":"Y(XZ)X","p":"R","x":2842,"y":108},{"s":"Y(XZ)X","p":"R","x":2860,"y":109},{"s":"Y(XZ)X","p":"R","x":2872,"y":118},{"s":"Y(XZ)X","p":"R","x":2884,"y":111},{"s":"Y(XZ)X","p":"R","x":2897,"y":109},{"s":"Y(XZ)X","p":"R","x":2912,"y":118},{"s":"Y(XZ)X","p":"R","x":2923,"y":111},{"s":"Y(XZ)X","p":"R","x":2955,"y":109},{"s":"Y(XZ)X","p":"R","x":2968,"y":111},{"s":"Y(XZ)X","p":"R","x":2981,"y":122},{"s":"Y(XZ)X","p":"R","x":2990,"y":146},{"s":"Y(XZ)X","p":"R","x":2999,"y":186},{"s":"Y(XZ)X","p":"R","x":3007,"y":206},{"s":"Y(XZ)X","p":"R","x":3016,"y":216},{"s":"Y(XZ)X","p":"R","x":3022,"y":221},{"s":"Y(XZ)X","p":"R","x":3027,"y":212},{"s":"Y(XZ)X","p":"R","x":3033,"y":189},{"s":"Y(XZ)X","p":"R","x":3042,"y":152},{"s":"Y(XZ)X","p":"R","x":3055,"y":136},{"s":"Y(XZ)X","p":"R","x":3068,"y":126},{"s":"Y(XZ)X","p":"R","x":3081,"y":124},{"s":"Y(XZ)X","p":"R","x":3090,"y":129},{"s":"Y(XZ)X","p":"R","x":3095,"y":144},{"s":"Y(XZ)X","p":"R","x":3098,"y":151},{"s":"Y(XZ)X","p":"R","x":3102,"y":139},{"s":"Y(XZ)X","p":"R","x":3105,"y":132},{"s":"Y(XZ)X","p":"R","x":3116,"y":132},{"s":"Y(XZ)X","p":"R","x":3129,"y":131},{"s":"Y(XZ)X","p":"R","x":3135,"y":134},{"s":"Y(XZ)X","p":"R","x":3151,"y":127},{"s":"Y(XZ)X","p":"R","x":3164,"y":134},{"s":"Y(XZ)X","p":"R","x":3177,"y":149},{"s":"Y(XZ)X","p":"R","x":3187,"y":169},{"s":"Y(XZ)X","p":"R","x":3195,"y":162},{"s":"Y(XZ)X","p":"R","x":3205,"y":139},{"s":"Y(XZ)X","p":"R","x":3221,"y":127},{"s":"Y(XZ)X","p":"R","x":3247,"y":122},{"s":"Y(XZ)X","p":"R","x":3282,"y":116},{"s":"Y(XZ)X","p":"R","x":3317,"y":111},{"s":"Y(XZ)X","p":"R","x":3360,"y":109},{"s":"Y(XZ)X","p":"R","x":3402,"y":109},{"s":"Y(XZ)X","p":"R","x":3404,"y":116},{"s":"Y(XZ)X","p":"R","x":3406,"y":109},{"s":"Y(XZ)X","p":"R","x":3478,"y":106},

      {"s":"Y(ZY)Z","p":"L","x":1300,"y":57},{"s":"Y(ZY)Z","p":"L","x":1397,"y":58},{"s":"Y(ZY)Z","p":"L","x":1401,"y":60},{"s":"Y(ZY)Z","p":"L","x":1405,"y":62},{"s":"Y(ZY)Z","p":"L","x":1409,"y":59},{"s":"Y(ZY)Z","p":"L","x":1415,"y":62},{"s":"Y(ZY)Z","p":"L","x":1418,"y":72},{"s":"Y(ZY)Z","p":"L","x":1421,"y":82},{"s":"Y(ZY)Z","p":"L","x":1426,"y":62},{"s":"Y(ZY)Z","p":"L","x":1433,"y":60},{"s":"Y(ZY)Z","p":"L","x":1500,"y":57},{"s":"Y(ZY)Z","p":"L","x":1665,"y":57},{"s":"Y(ZY)Z","p":"L","x":1678,"y":60},{"s":"Y(ZY)Z","p":"L","x":1691,"y":62},{"s":"Y(ZY)Z","p":"L","x":1695,"y":66},{"s":"Y(ZY)Z","p":"L","x":1698,"y":62},{"s":"Y(ZY)Z","p":"L","x":1701,"y":67},{"s":"Y(ZY)Z","p":"L","x":1706,"y":61},{"s":"Y(ZY)Z","p":"L","x":1715,"y":57},{"s":"Y(ZY)Z","p":"L","x":1900,"y":57},
      {"s":"Y(ZY)Z","p":"R","x":2703,"y":59},{"s":"Y(ZY)Z","p":"R","x":2794,"y":60},{"s":"Y(ZY)Z","p":"R","x":2881,"y":61},{"s":"Y(ZY)Z","p":"R","x":2907,"y":62},{"s":"Y(ZY)Z","p":"R","x":2924,"y":66},{"s":"Y(ZY)Z","p":"R","x":2942,"y":66},{"s":"Y(ZY)Z","p":"R","x":2955,"y":64},{"s":"Y(ZY)Z","p":"R","x":2968,"y":66},{"s":"Y(ZY)Z","p":"R","x":2985,"y":64},{"s":"Y(ZY)Z","p":"R","x":3003,"y":68},{"s":"Y(ZY)Z","p":"R","x":3018,"y":72},{"s":"Y(ZY)Z","p":"R","x":3029,"y":69},{"s":"Y(ZY)Z","p":"R","x":3046,"y":66},{"s":"Y(ZY)Z","p":"R","x":3064,"y":68},{"s":"Y(ZY)Z","p":"R","x":3073,"y":68},{"s":"Y(ZY)Z","p":"R","x":3095,"y":66},{"s":"Y(ZY)Z","p":"R","x":3116,"y":64},{"s":"Y(ZY)Z","p":"R","x":3143,"y":61},{"s":"Y(ZY)Z","p":"R","x":3160,"y":62},{"s":"Y(ZY)Z","p":"R","x":3186,"y":65},{"s":"Y(ZY)Z","p":"R","x":3212,"y":62},{"s":"Y(ZY)Z","p":"R","x":3247,"y":61},{"s":"Y(ZY)Z","p":"R","x":3317,"y":59},{"s":"Y(ZY)Z","p":"R","x":3402,"y":59},{"s":"Y(ZY)Z","p":"R","x":3404,"y":64},{"s":"Y(ZY)Z","p":"R","x":3406,"y":59},{"s":"Y(ZY)Z","p":"R","x":3478,"y":57},

      {"s":"Y(XY)X","p":"L","x":1300,"y":1},{"s":"Y(XY)X","p":"L","x":1393,"y":1},{"s":"Y(XY)X","p":"L","x":1398,"y":12},{"s":"Y(XY)X","p":"L","x":1401,"y":46},{"s":"Y(XY)X","p":"L","x":1405,"y":72},{"s":"Y(XY)X","p":"L","x":1408,"y":46},{"s":"Y(XY)X","p":"L","x":1411,"y":9},{"s":"Y(XY)X","p":"L","x":1418,"y":6},{"s":"Y(XY)X","p":"L","x":1428,"y":4},{"s":"Y(XY)X","p":"L","x":1451,"y":5},{"s":"Y(XY)X","p":"L","x":1465,"y":3},{"s":"Y(XY)X","p":"L","x":1665,"y":2},{"s":"Y(XY)X","p":"L","x":1678,"y":6},{"s":"Y(XY)X","p":"L","x":1695,"y":11},{"s":"Y(XY)X","p":"L","x":1699,"y":12},{"s":"Y(XY)X","p":"L","x":1705,"y":4},{"s":"Y(XY)X","p":"L","x":1715,"y":2},{"s":"Y(XY)X","p":"L","x":1900,"y":1},
      {"s":"Y(XY)X","p":"R","x":2703,"y":0},{"s":"Y(XY)X","p":"R","x":2794,"y":2},{"s":"Y(XY)X","p":"R","x":2872,"y":4},{"s":"Y(XY)X","p":"R","x":2924,"y":2},{"s":"Y(XY)X","p":"R","x":2968,"y":6},{"s":"Y(XY)X","p":"R","x":3003,"y":11},{"s":"Y(XY)X","p":"R","x":3029,"y":14},{"s":"Y(XY)X","p":"R","x":3042,"y":18},{"s":"Y(XY)X","p":"R","x":3049,"y":17},{"s":"Y(XY)X","p":"R","x":3060,"y":14},{"s":"Y(XY)X","p":"R","x":3073,"y":12},{"s":"Y(XY)X","p":"R","x":3095,"y":9},{"s":"Y(XY)X","p":"R","x":3116,"y":7},{"s":"Y(XY)X","p":"R","x":3143,"y":4},{"s":"Y(XY)X","p":"R","x":3169,"y":7},{"s":"Y(XY)X","p":"R","x":3186,"y":12},{"s":"Y(XY)X","p":"R","x":3197,"y":16},{"s":"Y(XY)X","p":"R","x":3212,"y":11},{"s":"Y(XY)X","p":"R","x":3247,"y":6},{"s":"Y(XY)X","p":"R","x":3299,"y":3},{"s":"Y(XY)X","p":"R","x":3402,"y":2},{"s":"Y(XY)X","p":"R","x":3404,"y":6},{"s":"Y(XY)X","p":"R","x":3406,"y":2},{"s":"Y(XY)X","p":"R","x":3478,"y":1}
    ],
    "la": [
      {"t":"Z(YY)X . A","g":"g","x":936,"y":276},
      {"t":"Y(ZZ)X . A","g":"g","x":938,"y":217},
      {"t":"Y(XX)Z . A","g":"g","x":936,"y":162},
      {"t":"Y(XZ)X . A","g":"g","x":938,"y":105},
      {"t":"Y(ZY)Z . B","g":"g","x":945,"y":59},
      {"t":"Y(XY)X . B","g":"g","x":942,"y":10},
      {"t":"x 2","g":"","x":1273,"y":59},
      {"t":"x 2","g":"","x":1273,"y":10}
    ],
    "lb": [
      {"t":"Z(YY)X . A","g":"g","x":2750,"y":319},
      {"t":"Y(ZZ)X . A","g":"g","x":2750,"y":253},
      {"t":"Y(XX)Z . A","g":"g","x":2745,"y":171},
      {"t":"Y(XZ)X . A","g":"g","x":2750,"y":117},
      {"t":"Y(ZY)Z . B","g":"g","x":2754,"y":69},
      {"t":"Y(XY)X . B","g":"g","x":2750,"y":11},
      {"t":"x 2","g":"","x":3425,"y":67},
      {"t":"x 2","g":"","x":3425,"y":9}
    ],
    "brk": [
      {"x":1888,"x2":2485,"y":-32,"y2":-14},
      {"x":2095,"x2":2716,"y":-32,"y2":-14},
      {"x":1888,"x2":2485,"y":442,"y2":460},
      {"x":2095,"x2":2716,"y":442,"y2":460}
    ]
  },
  "vconcat": [
    {
      "width": 607,
      "height": 474,
      "title": {"text": "(a)", "orient": "bottom", "anchor": "middle", "offset": 20, "dx": -17},
      "resolve": {"axis": {"x": "independent"}},
      "layer": [
        {
          "data": {"name": "a"},
          "mark": {"type": "line", "clip": true, "strokeWidth": 1, "color": "#222"},
          "encoding": {
            "x": {
              "field": "x", "type": "quantitative",
              "scale": {"domain": [0, 1285], "nice": false, "zero": false},
              "axis": {
                "orient": "bottom", "format": "d",
                "values": [0, 200, 400, 600, 800, 1000, 1200],
                "tickSize": -10, "labelPadding": 19,
                "title": "Wavenumber (cm⁻¹)", "titlePadding": 14, "titleX": 313
              }
            },
            "y": {
              "field": "y", "type": "quantitative",
              "scale": {"domain": [-22, 452], "nice": false, "zero": false},
              "axis": {
                "values": [0, 56.5, 113, 169.5, 226, 282.5, 339, 395.5],
                "labels": false, "tickSize": -4,
                "title": "Intensity (arb. units)", "titlePadding": 14
              }
            },
            "detail": {"field": "s"}
          }
        },
        {
          "data": {"name": "la"},
          "mark": {"type": "text", "align": "right", "baseline": "alphabetic", "fontSize": 18},
          "encoding": {
            "x": {"field": "x", "type": "quantitative", "axis": {"orient": "top", "labels": false, "ticks": false, "title": null}},
            "y": {"field": "y", "type": "quantitative"},
            "text": {"field": "t"}
          }
        },
        {
          "data": {"name": "la"},
          "mark": {"type": "text", "align": "left", "baseline": "alphabetic", "fontSize": 12, "dx": 1, "dy": 5},
          "encoding": {
            "x": {"field": "x", "type": "quantitative", "axis": {"orient": "bottom", "values": [100, 300, 500, 700, 900, 1100], "labels": false, "domain": false, "tickSize": -5, "title": null}},
            "y": {"field": "y", "type": "quantitative"},
            "text": {"field": "g"}
          }
        }
      ]
    },
    {
      "width": 607,
      "height": 473,
      "title": {"text": "(b)", "orient": "bottom", "anchor": "middle", "offset": 20, "dx": -17},
      "resolve": {"axis": {"x": "independent"}},
      "layer": [
        {
          "data": {"name": "b"},
          "mark": {"type": "line", "clip": true, "strokeWidth": 1, "color": "#222"},
          "encoding": {
            "x": {
              "field": "x", "type": "quantitative",
              "scale": {"domain": [1300, 1900, 2700, 3477], "range": [0, 299.5, 309.75, 607], "nice": false, "zero": false},
              "axis": {
                "orient": "bottom", "format": "d",
                "values": [1400, 1600, 1800, 2800, 3200],
                "tickSize": -10, "labelPadding": 19,
                "title": "Wavenumber (cm⁻¹)", "titlePadding": 14, "titleX": 311
              }
            },
            "y": {
              "field": "y", "type": "quantitative",
              "scale": {"domain": [-22, 451], "nice": false, "zero": false},
              "axis": {
                "values": [0, 22.58, 45.16, 67.74, 90.32, 112.9, 135.48, 158.06, 180.64, 203.22, 225.8, 248.38, 270.96, 293.54, 316.12, 338.7, 361.28, 383.86, 406.44, 429.02],
                "labels": false, "tickSize": -3,
                "title": "Intensity (arb. units)", "titlePadding": 14
              }
            },
            "detail": [{"field": "s"}, {"field": "p"}]
          }
        },
        {
          "data": {"name": "lb"},
          "mark": {"type": "text", "align": "right", "baseline": "alphabetic", "fontSize": 18},
          "encoding": {
            "x": {"field": "x", "type": "quantitative", "axis": {"orient": "top", "values": [1400, 1500, 1600, 1700, 1800, 2800, 3000, 3200, 3400], "labels": false, "tickSize": -3, "title": null}},
            "y": {"field": "y", "type": "quantitative"},
            "text": {"field": "t"}
          }
        },
        {
          "data": {"name": "lb"},
          "mark": {"type": "text", "align": "left", "baseline": "alphabetic", "fontSize": 12, "dx": 1, "dy": 5},
          "encoding": {
            "x": {"field": "x", "type": "quantitative", "axis": {"orient": "bottom", "values": [1500, 1700, 3000, 3400], "labels": false, "domain": false, "tickSize": -5, "title": null}},
            "y": {"field": "y", "type": "quantitative"},
            "text": {"field": "g"}
          }
        },
        {
          "data": {"name": "brk"},
          "mark": {"type": "rule", "color": "#000", "strokeWidth": 1.4},
          "encoding": {
            "x": {"field": "x", "type": "quantitative", "axis": null},
            "x2": {"field": "x2"},
            "y": {"field": "y", "type": "quantitative"},
            "y2": {"field": "y2"}
          }
        }
      ]
    }
  ]
}
